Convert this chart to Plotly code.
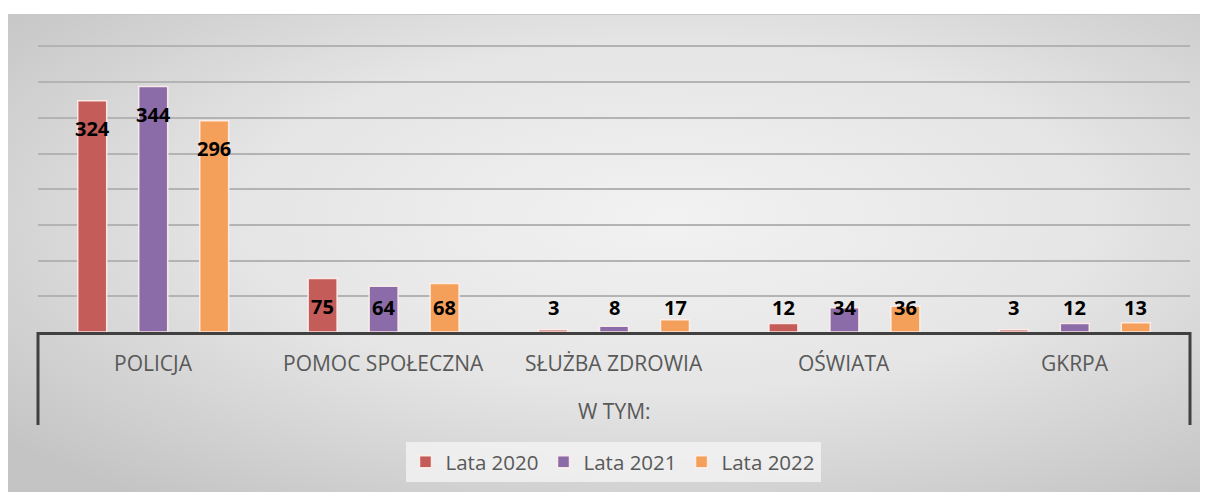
import base64
import plotly.graph_objects as go

categories = ["POLICJA", "POMOC SPOŁECZNA", "SŁUŻBA ZDROWIA", "OŚWIATA", "GKRPA"]
series_names = ["Lata 2020", "Lata 2021", "Lata 2022"]
values_2020 = [324, 75, 3, 12, 3]
values_2021 = [344, 64, 8, 34, 12]
values_2022 = [296, 68, 17, 36, 13]
group_title = "W TYM:"

series_values = [values_2020, values_2021, values_2022]
colors = ["#C45C5A", "#8B6CA8", "#F5A05A"]
label_shift = [-61, 0, 61]

# page has an 8px body margin; figure coordinates = screenshot - 8
W, H = 1208, 492
ML, MR, MT = 30, 26, 37
PH = 287
MB = H - MT - PH
PW = W - ML - MR
BASE = MT + PH  # baseline y in figure px


def py(px):
    """figure px (y) -> paper coordinate"""
    return (BASE - px) / PH


fig = go.Figure()
for name, vals, col in zip(series_names, series_values, colors):
    fig.add_trace(go.Bar(
        x=categories, y=vals, name=name,
        marker=dict(color=col, line=dict(color="rgba(255,240,235,0.9)", width=1.5)),
    ))

annotations = []
for vals, sh in zip(series_values, label_shift):
    for c, v in zip(categories, vals):
        annotations.append(dict(
            x=c, y=max(v - 39, 35), xref="x", yref="y", xshift=sh,
            text=str(v), showarrow=False, yanchor="middle",
            font=dict(family="Open Sans", size=20, color="#000000", weight="bold"),
        ))
for c in categories:
    annotations.append(dict(
        x=c, y=py(355), xref="x", yref="paper", text=c, showarrow=False,
        yanchor="middle", font=dict(family="Open Sans", size=21, color="#595959"),
    ))
annotations.append(dict(
    x=0.5, y=py(403), xref="paper", yref="paper", text=group_title,
    showarrow=False, yanchor="middle",
    font=dict(family="Open Sans", size=21, color="#595959"),
))

svg = (
    '<svg xmlns="http://www.w3.org/2000/svg" width="1200" height="486" '
    'viewBox="0 0 1200 486" preserveAspectRatio="none">'
    '<defs><radialGradient id="g" cx="0.55" cy="0.42" r="0.72">'
    '<stop offset="0" stop-color="#f2f2f2"/>'
    '<stop offset="0.5" stop-color="#e5e5e5"/>'
    '<stop offset="1" stop-color="#c4c4c4"/>'
    '</radialGradient></defs>'
    '<rect x="0" y="0" width="1200" height="486" fill="url(#g)"/>'
    '<line x1="0" y1="0.5" x2="1200" y2="0.5" stroke="#c8c8c8" stroke-width="1"/>'
    '</svg>'
)
src = "data:image/svg+xml;base64," + base64.b64encode(svg.encode()).decode()

fig.add_layout_image(dict(
    source=src, xref="paper", yref="paper",
    x=(0 - ML) / PW, y=py(6),
    sizex=1200 / PW, sizey=486 / PH,
    xanchor="left", yanchor="top", sizing="stretch", layer="below",
))

shapes = [
    dict(type="line", xref="paper", yref="paper", x0=0, x1=0, y0=0, y1=py(417),
         line=dict(color="#404040", width=3)),
    dict(type="line", xref="paper", yref="paper", x0=1, x1=1, y0=0, y1=py(417),
         line=dict(color="#404040", width=3)),
]

fig.update_layout(
    width=W, height=H,
    margin=dict(l=ML, r=MR, t=MT, b=MB, autoexpand=False),
    paper_bgcolor="white", plot_bgcolor="rgba(0,0,0,0)",
    barmode="group", bargap=0.206, bargroupgap=0.525,
    showlegend=True,
    legend=dict(
        orientation="h", x=(605 - ML) / PW, y=py(454), xanchor="center", yanchor="middle",
        bgcolor="rgba(245,245,245,0.75)", borderwidth=0,
        font=dict(family="Open Sans", size=20.5, color="#595959"),
    ),
    annotations=annotations,
    shapes=shapes,
    xaxis=dict(showticklabels=False, showgrid=False, showline=True,
               linecolor="#404040", linewidth=3, ticks=""),
    yaxis=dict(range=[0, 402], dtick=50, showticklabels=False, showgrid=True,
               gridcolor="#b3b3b3", gridwidth=1.5, zeroline=False, showline=False,
               ticks=""),
)

fig.write_html("out.html")
